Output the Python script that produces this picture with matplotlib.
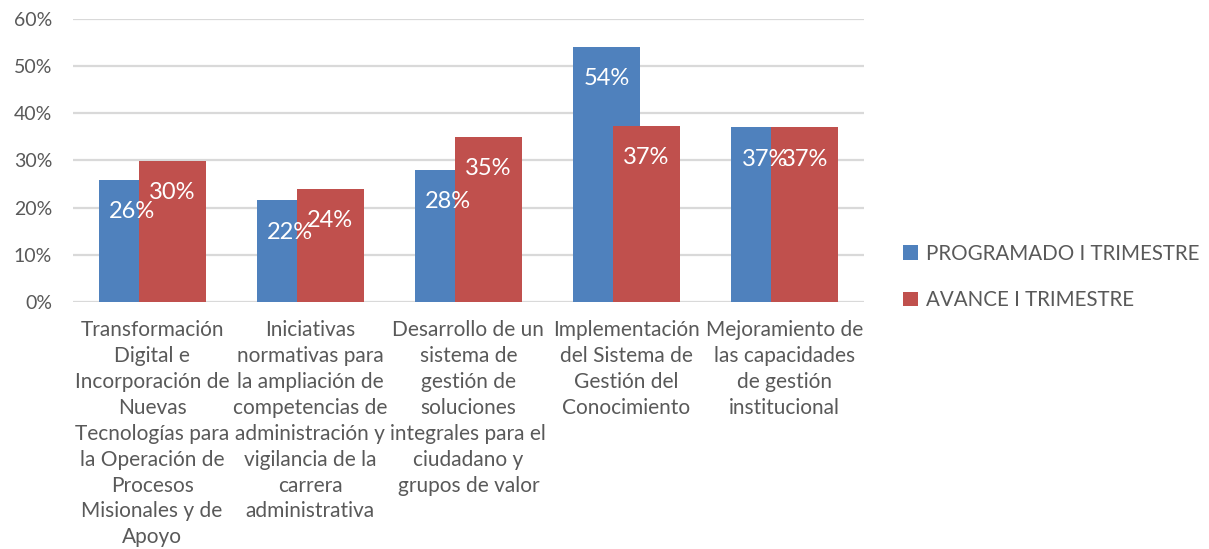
import matplotlib.pyplot as plt
from matplotlib.ticker import PercentFormatter

categorias = [
    'Transformación\nDigital e\nIncorporación de\nNuevas\nTecnologías para\nla Operación de\nProcesos\nMisionales y de\nApoyo',
    'Iniciativas\nnormativas para\nla ampliación de\ncompetencias de\nadministración y\nvigilancia de la\ncarrera\nadministrativa',
    'Desarrollo de un\nsistema de\ngestión de\nsoluciones\nintegrales para el\nciudadano y\ngrupos de valor',
    'Implementación\ndel Sistema de\nGestión del\nConocimiento',
    'Mejoramiento de\nlas capacidades\nde gestión\ninstitucional',
]
programado = [25.9, 21.6, 28.0, 54.1, 37.0]
avance = [29.9, 24.0, 35.0, 37.4, 37.0]
series = ['PROGRAMADO I TRIMESTRE', 'AVANCE I TRIMESTRE']
colores = ['#4f81bd', '#c0504d']

plt.rcParams['font.family'] = ['Lato', 'DejaVu Sans']
gris = '#595959'

fig = plt.figure(figsize=(12.09, 5.49), dpi=100)
ax = fig.add_axes([0.0604, 0.450, 0.654, 0.5154])

x = list(range(len(categorias)))
ancho = 0.424
desp = 0.1265
b1 = ax.bar([i - desp for i in x], programado, ancho, color=colores[0], label=series[0], zorder=2)
b2 = ax.bar([i + desp for i in x], avance, ancho, color=colores[1], label=series[1], zorder=3)

for barras, vals in ((b1, programado), (b2, avance)):
    for r, v in zip(barras, vals):
        ax.annotate('%d%%' % round(v), (r.get_x() + r.get_width() / 2, v),
                    xytext=(0, -32 * 0.72), textcoords='offset points',
                    ha='center', va='center', color='white', fontsize=17, zorder=5)

ax.set_xlim(-0.5, 4.5)
ax.set_ylim(0, 60)
ax.set_yticks(range(0, 61, 10))
ax.yaxis.set_major_formatter(PercentFormatter(decimals=0))
ax.grid(axis='y', color='#d9d9d9', lw=1.6, zorder=0)
ax.set_axisbelow(True)
for s in ax.spines.values():
    s.set_visible(False)
ax.tick_params(axis='y', length=0, pad=15, labelsize=14, labelcolor=gris)
ax.set_xticks(x)
ax.set_xticklabels(categorias, fontsize=15, color=gris, linespacing=1.37)
ax.tick_params(axis='x', length=0, pad=13)

fig.legend(loc='center left', bbox_to_anchor=(0.732, 0.4955), frameon=False,
           fontsize=14.8, labelcolor=gris, handlelength=0.7, handleheight=0.7,
           handletextpad=0.4, labelspacing=1.3)

fig.savefig('out.png', dpi=100)
